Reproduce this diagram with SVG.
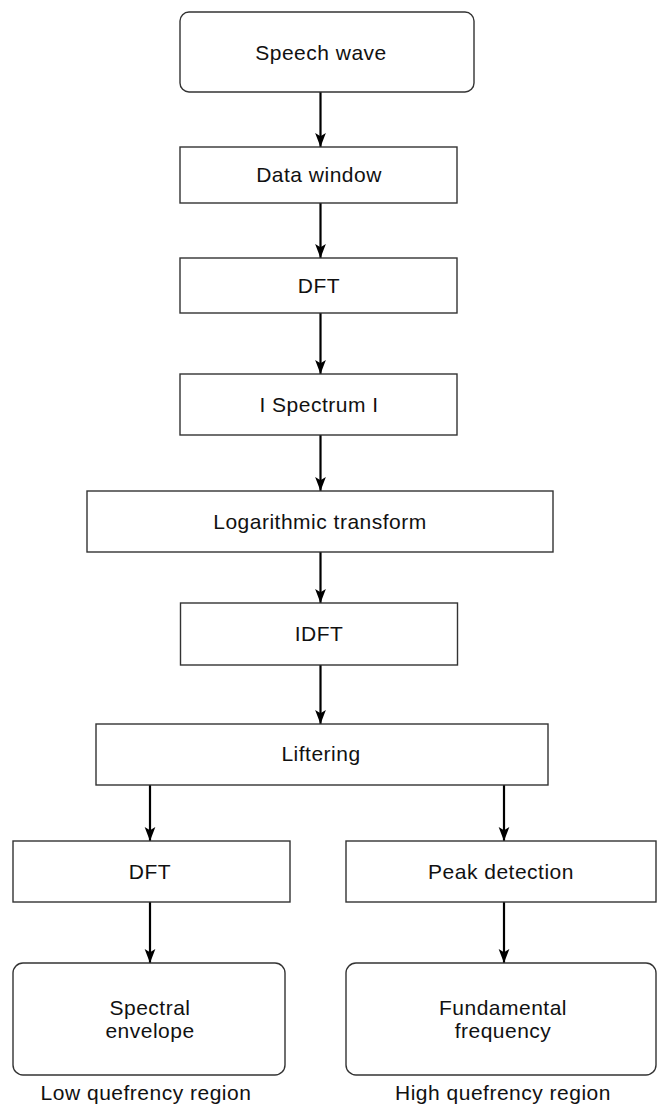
<svg xmlns="http://www.w3.org/2000/svg" width="657" height="1106" viewBox="0 0 657 1106">
<style>
.box{fill:#fff;stroke:#333;stroke-width:1.4}
.t{font-family:"Liberation Sans",Arial,sans-serif;font-size:21px;letter-spacing:0.5px;fill:#111;text-anchor:middle}
.c{stroke:#000;stroke-width:2.2;fill:none}
</style>
<defs>
<marker id="ah" markerUnits="userSpaceOnUse" markerWidth="14" markerHeight="18" refX="17" refY="6.5" orient="auto" viewBox="0 0 17 13">
<path d="M0,0 L17,6.5 L0,13 L4,6.5 z" fill="#000"/>
</marker>
</defs>
<rect width="657" height="1106" fill="#fff"/>
<g id="connectors">
<line class="c" x1="320.5" y1="92" x2="320.5" y2="147" marker-end="url(#ah)"/>
<line class="c" x1="320.5" y1="203" x2="320.5" y2="258" marker-end="url(#ah)"/>
<line class="c" x1="320.5" y1="313" x2="320.5" y2="374" marker-end="url(#ah)"/>
<line class="c" x1="320.5" y1="435" x2="320.5" y2="491" marker-end="url(#ah)"/>
<line class="c" x1="320.5" y1="552" x2="320.5" y2="603" marker-end="url(#ah)"/>
<line class="c" x1="320.5" y1="665" x2="320.5" y2="724" marker-end="url(#ah)"/>
<line class="c" x1="150" y1="785" x2="150" y2="841" marker-end="url(#ah)"/>
<line class="c" x1="504" y1="785" x2="504" y2="841" marker-end="url(#ah)"/>
<line class="c" x1="150" y1="902" x2="150" y2="963" marker-end="url(#ah)"/>
<line class="c" x1="504" y1="902" x2="504" y2="963" marker-end="url(#ah)"/>
</g>
<g id="speech-wave"><rect class="box" x="180" y="12" width="294" height="80" rx="9"/><text class="t" x="321" y="60">Speech wave</text></g>
<g id="data-window"><rect class="box" x="180" y="147" width="277" height="56"/><text class="t" x="319" y="182">Data window</text></g>
<g id="dft1"><rect class="box" x="180" y="258" width="277" height="55"/><text class="t" x="319" y="293">DFT</text></g>
<g id="spectrum"><rect class="box" x="180" y="374" width="277" height="61"/><text class="t" x="319" y="412">I Spectrum I</text></g>
<g id="log"><rect class="box" x="87" y="491" width="466" height="61"/><text class="t" x="320" y="529">Logarithmic transform</text></g>
<g id="idft"><rect class="box" x="180.5" y="603" width="277" height="62"/><text class="t" x="319" y="641">IDFT</text></g>
<g id="liftering"><rect class="box" x="96" y="724" width="452" height="61"/><text class="t" x="321" y="761">Liftering</text></g>
<g id="dft2"><rect class="box" x="13" y="841" width="277" height="61"/><text class="t" x="150" y="879">DFT</text></g>
<g id="peak"><rect class="box" x="346" y="841" width="310" height="61"/><text class="t" x="501" y="879">Peak detection</text></g>
<g id="spectral-envelope"><rect class="box" x="13" y="963" width="272" height="112" rx="10"/><text class="t" x="150" y="1015">Spectral</text><text class="t" x="150" y="1038">envelope</text></g>
<g id="fundamental"><rect class="box" x="346" y="963" width="310" height="112" rx="10"/><text class="t" x="503" y="1015">Fundamental</text><text class="t" x="503" y="1038">frequency</text></g>
<g id="labels"><text class="t" x="146" y="1100">Low quefrency region</text><text class="t" x="503" y="1100">High quefrency region</text></g>
</svg>
